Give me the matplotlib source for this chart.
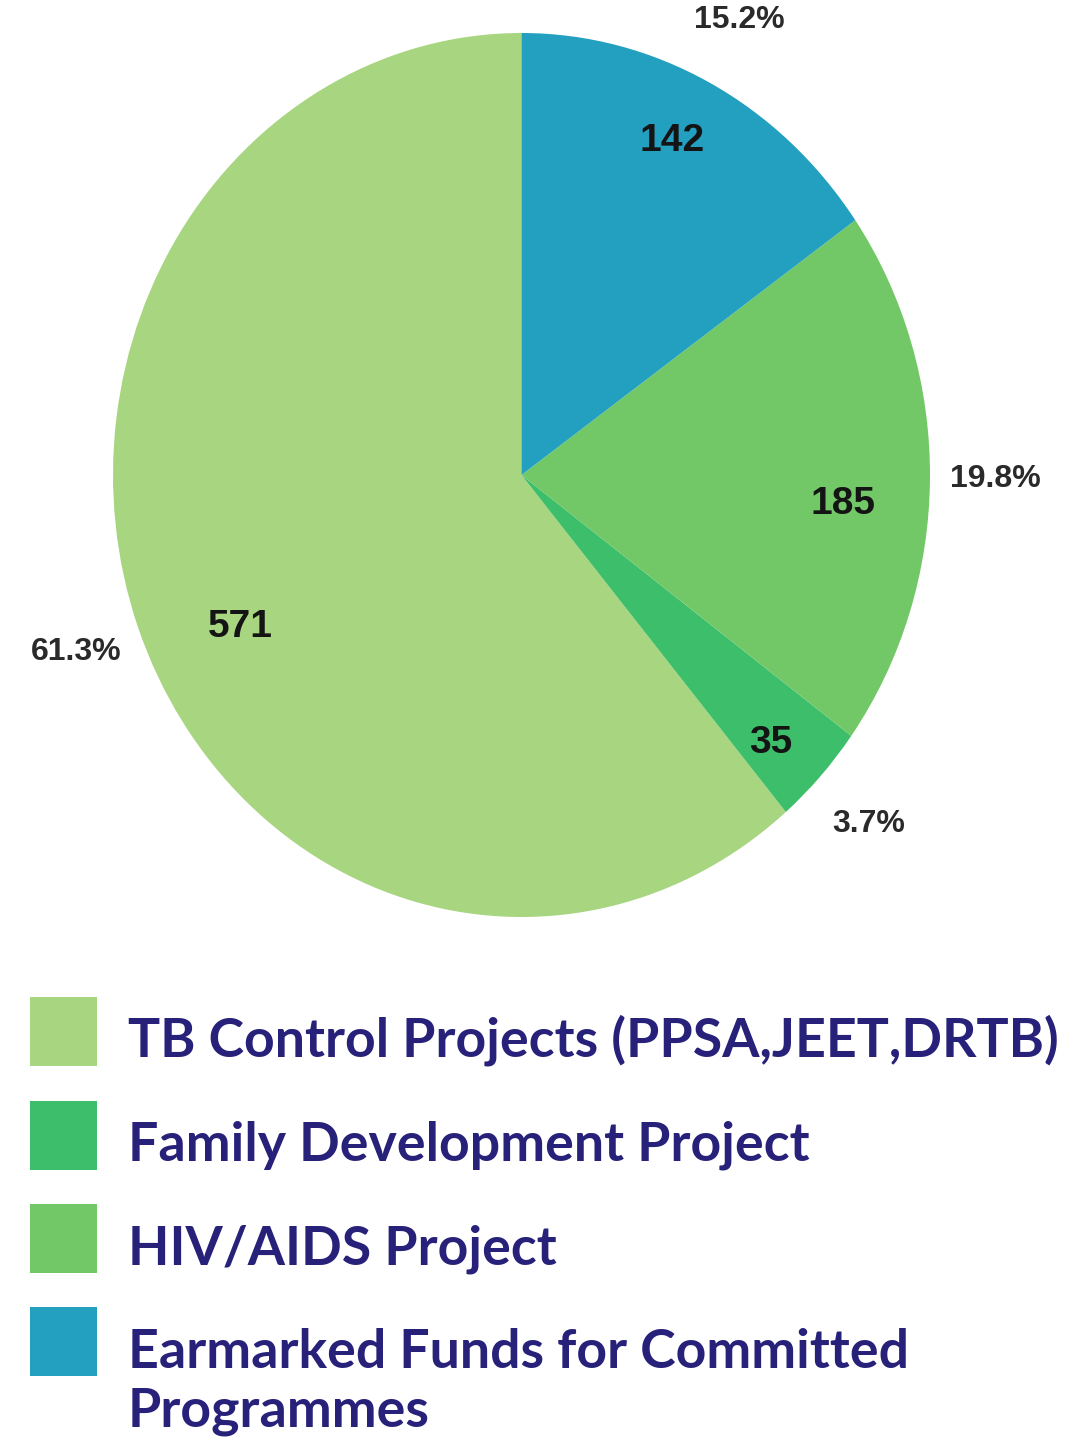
import matplotlib
matplotlib.use('Agg')
import matplotlib.pyplot as plt
from matplotlib.patches import Rectangle
import numpy as np

# data
categories = ['TB Control Projects (PPSA,JEET,DRTB)',
              'Family Development Project',
              'HIV/AIDS Project',
              'Earmarked Funds for Committed\nProgrammes']
values = [571, 35, 185, 142]
pct_labels = ['61.3%', '3.7%', '19.8%', '15.2%']
colors = ['#a8d580', '#3dbe6a', '#72c866', '#23a0c0']

W, H = 1071, 1441
fig = plt.figure(figsize=(W / 100, H / 100), dpi=100)

# pie, slightly taller than wide like the original
ax = fig.add_axes([113 / W, 1 - 917 / H, 817 / W, 884 / H])
total = sum(values)
wedges, outer, inner = ax.pie(values, colors=colors, startangle=90, counterclock=True,
                              labels=pct_labels, labeldistance=1.16,
                              autopct=lambda p: f'{p * total / 100:.0f}', pctdistance=0.82,
                              wedgeprops=dict(linewidth=0))
ax.set_aspect('auto')
ax.set_xlim(-1, 1)
ax.set_ylim(-1, 1)

num_font = ['Liberation Sans', 'DejaVu Sans']
# radius and angle shift of the value labels inside the slices
num_r = [0.77, 0.86, 0.79, 0.84]
num_dang = [6.4, -1.9, -4.2, 1.4]
for t, w, r, da in zip(inner, wedges, num_r, num_dang):
    a = np.deg2rad((w.theta1 + w.theta2) / 2 + da)
    t.set_position((r * np.cos(a), r * np.sin(a)))
    t.set_fontsize(28)
    t.set_fontweight('bold')
    t.set_family(num_font)
    t.set_color('#141414')
for t in outer:
    t.set_ha('center')
    t.set_va('center')
    t.set_fontsize(23)
    t.set_fontweight('bold')
    t.set_family(num_font)
    t.set_color('#2a2a2a')

# legend drawn by hand
lax = fig.add_axes([0, 0, 1, 1])
lax.set_xlim(0, W)
lax.set_ylim(H, 0)
lax.axis('off')
lax.patch.set_alpha(0)

sq_top = [997, 1101, 1204, 1307]
baselines = [1057, 1161, 1264, 1368]
line_step = 58
txt_color = '#27217a'
leg_font = ['Lato', 'DejaVu Sans']

texts = []
for lab, c, top, base in zip(categories, colors, sq_top, baselines):
    lax.add_patch(Rectangle((30, top), 67, 69, color=c, lw=0))
    for k, line in enumerate(lab.split('\n')):
        texts.append(lax.text(128, base + k * line_step, line, fontsize=40, fontweight='bold',
                              family=leg_font, color=txt_color, va='baseline', ha='left'))

# fit font size so the first line is as wide as in the original
fig.canvas.draw()
bb = texts[0].get_window_extent()
fs = 40 * 930 / bb.width
for t in texts:
    t.set_fontsize(fs)

fig.savefig('out.png', dpi=100)
